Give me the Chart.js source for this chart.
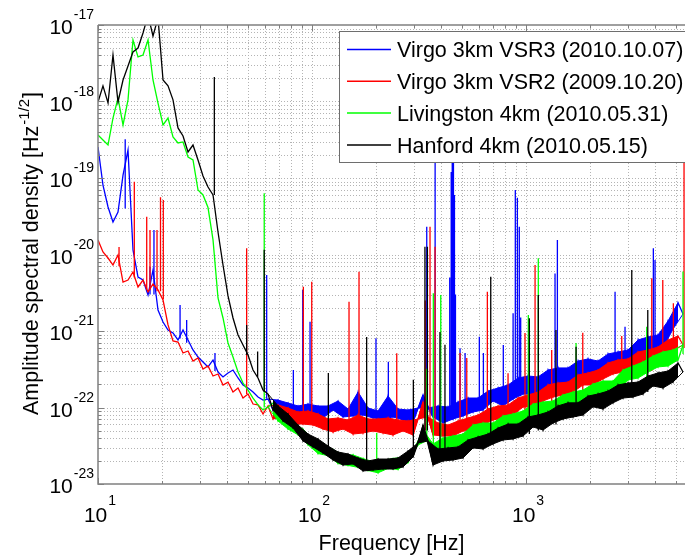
<!DOCTYPE html>
<html>
<head>
<meta charset="utf-8">
<script src="https://cdn.jsdelivr.net/npm/chart.js@4.4.1/dist/chart.umd.min.js"></script>
<style>
  html, body { margin: 0; padding: 0; background: #fff; }
  canvas { display: block; }
</style>
</head>
<body>
<canvas id="asd" width="685" height="557"></canvas>
<script>
// frequency grid (Hz) shared by the four spectra
const freqs = [10, 10.55, 11.14, 11.75, 12.4, 13.09, 13.81, 14.57, 15.38, 16.23,
  17.13, 18.07, 19.07, 20.13, 21.24, 22.41, 23.65, 24.96, 26.34, 27.79,
  29.33, 30.95, 32.66, 34.47, 36.37, 38.38, 40.5, 42.74, 45.11, 47.6,
  50.23, 53.01, 55.94, 59.03, 62.29, 65.73, 69.37, 73.2, 77.25, 81.52,
  86.02, 90.78, 95.8, 101.1, 106.7, 112.6, 118.8, 125.4, 132.3, 139.6,
  147.3, 155.5, 164.1, 173.1, 182.7, 192.8, 203.5, 214.7, 226.6, 239.1,
  252.3, 266.3, 281, 296.5, 312.9, 330.2, 348.5, 367.7, 388.1, 409.5,
  432.1, 456, 481.2, 507.8, 535.9, 565.5, 596.8, 629.8, 664.6, 701.3,
  740.1, 781, 824.2, 869.7, 917.8, 968.5, 1022, 1079, 1138, 1201,
  1267, 1337, 1411, 1489, 1571, 1658, 1750, 1846, 1948, 2056,
  2169, 2289, 2416, 2549, 2690, 2839, 2996, 3161, 3336, 3520,
  3715, 3920, 4137, 4366, 4607, 4862, 5130, 5414];

const virgoVSR3 = [2.54e-19, 8.09e-20, 4.18e-20, 2.66e-20, 3.59e-20, 1.09e-19, 2.32e-19, 1.15e-20, 5.08e-21, 4.64e-21,
  2.95e-21, 6.27e-21, 1.88e-21, 1.31e-21, 1.03e-21, 9.42e-22, 7.63e-22, 1.03e-21, 7.63e-22, 5.65e-22,
  4.57e-22, 3.93e-22, 3.39e-22, 4.18e-22, 2.91e-22, 2.51e-22, 2.83e-22, 3.09e-22, 2.43e-22, 1.97e-22,
  1.8e-22, 1.59e-22, 1.37e-22, 1.25e-22, 1.29e-22, 9.27e-23, 1.25e-22, 8.74e-23, 1.145e-22, 7.75e-23,
  1.046e-22, 7.52e-23, 1.11e-22, 8.48e-23, 1.046e-22, 7.29e-23, 1.046e-22, 9.27e-23, 1.215e-22, 7.52e-23,
  9.56e-23, 7.75e-23, 1.59e-22, 7.98e-23, 9.85e-23, 7.29e-23, 9.0e-23, 7.08e-23, 1.41e-22, 7.52e-23,
  9.56e-23, 6.87e-23, 9.27e-23, 6.46e-23, 9.85e-23, 1.46e-22, 9.85e-23, 7.52e-23, 1.046e-22, 6.27e-23,
  1.015e-22, 7.08e-23, 1.18e-22, 7.75e-23, 1.33e-22, 8.74e-23, 1.33e-22, 9.27e-23, 1.64e-22, 1.215e-22,
  1.8e-22, 1.046e-22, 1.97e-22, 1.29e-22, 2.43e-22, 1.5e-22, 2.58e-22, 1.5e-22, 2.51e-22, 1.59e-22,
  3.09e-22, 2.09e-22, 3.29e-22, 1.8e-22, 3.29e-22, 2.15e-22, 4.05e-22, 2.43e-22, 4.31e-22, 2.43e-22,
  4.05e-22, 2.58e-22, 5.01e-22, 3.39e-22, 5.32e-22, 3.0e-22, 5.65e-22, 3.82e-22, 7.63e-22, 4.71e-22,
  8.35e-22, 5.01e-22, 8.87e-22, 6.0e-22, 1.35e-21, 1.06e-21, 2.34e-21, 1.67e-21];

const virgoVSR2 = [1.55e-20, 1.08e-20, 9.0e-21, 7.29e-21, 9.85e-21, 4.37e-21, 4.64e-21, 5.9e-21, 3.76e-21, 4.64e-21,
  3.24e-21, 4.11e-21, 3.44e-21, 2.54e-21, 1.2e-21, 7.4e-22, 7.18e-22, 5.16e-22, 5.48e-22, 4.05e-22,
  4.44e-22, 3.19e-22, 3.49e-22, 2.58e-22, 2.74e-22, 1.97e-22, 2.15e-22, 1.59e-22, 1.8e-22, 1.33e-22,
  1.5e-22, 1.11e-22, 1.08e-22, 8.23e-23, 1.046e-22, 7.08e-23, 1.08e-22, 7.52e-23, 9.85e-23, 6.08e-23,
  8.74e-23, 6.08e-23, 9.0e-23, 5.9e-23, 8.23e-23, 5.23e-23, 7.08e-23, 4.78e-23, 7.29e-23, 5.23e-23,
  6.87e-23, 4.5e-23, 7.98e-23, 4.64e-23, 7.08e-23, 4.93e-23, 7.08e-23, 4.64e-23, 7.29e-23, 4.37e-23,
  6.87e-23, 4.93e-23, 6.66e-23, 4.37e-23, 7.08e-23, 1.18e-22, 7.52e-23, 4.37e-23, 6.27e-23, 4.24e-23,
  5.9e-23, 4.24e-23, 6.66e-23, 4.93e-23, 7.29e-23, 5.08e-23, 7.98e-23, 5.9e-23, 9.56e-23, 6.87e-23,
  1.046e-22, 7.29e-23, 1.08e-22, 7.98e-23, 1.33e-22, 1.015e-22, 1.46e-22, 1.015e-22, 1.59e-22, 1.215e-22,
  1.97e-22, 1.37e-22, 2.09e-22, 1.46e-22, 2.15e-22, 1.59e-22, 2.66e-22, 1.97e-22, 2.83e-22, 1.97e-22,
  3.09e-22, 2.36e-22, 3.82e-22, 2.74e-22, 4.18e-22, 2.91e-22, 4.31e-22, 3.19e-22, 5.32e-22, 3.93e-22,
  5.65e-22, 3.93e-22, 6.18e-22, 4.71e-22, 7.63e-22, 5.48e-22, 8.6e-22, 6.56e-22];

const livingston = [3.65e-19, 3.14e-19, 2.7e-19, 6.08e-19, 1.11e-18, 4.93e-19, 1.05e-18, 6.37e-18, 3.82e-18, 4.05e-18,
  6.37e-18, 1.91e-18, 9.55e-19, 4.93e-19, 6.08e-19, 3.44e-19, 2.87e-19, 2.96e-19, 1.88e-19, 1.72e-19,
  6.97e-20, 6.0e-20, 4.11e-20, 1.55e-20, 2.7e-21, 1.48e-21, 6.97e-22, 4.57e-22, 2.91e-22, 2.09e-22,
  1.69e-22, 1.33e-22, 1.08e-22, 9.27e-23, 1.015e-22, 1.145e-22, 6.66e-23, 8.23e-23, 5.23e-23, 6.46e-23,
  4.4e-23, 5.2e-23, 3.25e-23, 3.9e-23, 2.5e-23, 3.35e-23, 2.35e-23, 2.8e-23, 1.85e-23, 2.4e-23,
  1.75e-23, 2.4e-23, 1.65e-23, 2.15e-23, 1.5e-23, 1.95e-23, 1.4e-23, 2.05e-23, 1.6e-23, 2.15e-23,
  1.55e-23, 2.25e-23, 1.9e-23, 2.7e-23, 3.24e-23, 5.08e-23, 3.76e-23, 3.34e-23, 2.47e-23, 4.0e-23,
  2.96e-23, 4.24e-23, 2.96e-23, 4.5e-23, 3.54e-23, 5.9e-23, 4.12e-23, 6.27e-23, 4.37e-23, 6.27e-23,
  4.64e-23, 7.75e-23, 5.9e-23, 8.23e-23, 5.73e-23, 9.0e-23, 6.87e-23, 1.11e-22, 7.75e-23, 1.18e-22,
  8.23e-23, 1.215e-22, 8.74e-23, 1.46e-22, 1.11e-22, 1.59e-22, 1.08e-22, 1.69e-22, 1.29e-22, 2.03e-22,
  1.46e-22, 2.22e-22, 1.55e-22, 2.22e-22, 1.64e-22, 3.09e-22, 2.29e-22, 3.49e-22, 2.43e-22, 3.93e-22,
  2.91e-22, 4.71e-22, 3.39e-22, 5.32e-22, 3.49e-22, 5.65e-22, 4.18e-22, 6.56e-22];

const hanford = [9.85e-19, 1.6e-18, 9.55e-19, 4.05e-18, 9.85e-19, 1.91e-18, 2.91e-18, 4.44e-18, 5.0e-18, 7.85e-18,
  1.35e-17, 7.18e-18, 1.24e-17, 1.91e-18, 1.6e-18, 1.05e-18, 4.51e-19, 3.54e-19, 2.19e-19, 2.7e-19,
  1.72e-19, 1.06e-19, 7.62e-20, 6.0e-20, 1.97e-20, 7.29e-21, 2.87e-21, 1.48e-21, 8.87e-22, 6.56e-22,
  4.86e-22, 3.09e-22, 2.43e-22, 1.69e-22, 1.5e-22, 9.27e-23, 1.05e-22, 6.66e-23, 8.23e-23, 5.39e-23,
  5.9e-23, 3.65e-23, 4.5e-23, 3.05e-23, 3.88e-23, 2.54e-23, 3.14e-23, 2.06e-23, 2.62e-23, 1.77e-23,
  2.47e-23, 1.83e-23, 2.19e-23, 1.48e-23, 2.0e-23, 1.52e-23, 2.12e-23, 1.57e-23, 2.12e-23, 1.57e-23,
  2.19e-23, 1.67e-23, 2.7e-23, 2.26e-23, 3.44e-23, 5.9e-23, 3.65e-23, 1.77e-23, 2.87e-23, 2.0e-23,
  2.96e-23, 2.06e-23, 3.05e-23, 2.19e-23, 3.76e-23, 2.96e-23, 4.12e-23, 2.87e-23, 4.5e-23, 3.34e-23,
  5.39e-23, 3.76e-23, 6.08e-23, 3.88e-23, 6.08e-23, 4.24e-23, 7.52e-23, 5.56e-23, 7.98e-23, 5.08e-23,
  8.74e-23, 6.27e-23, 1.05e-22, 7.08e-23, 1.15e-22, 7.52e-23, 1.15e-22, 7.98e-23, 1.41e-22, 1.02e-22,
  1.5e-22, 9.56e-23, 1.64e-22, 1.15e-22, 1.97e-22, 1.33e-22, 2.09e-22, 1.37e-22, 2.15e-22, 1.5e-22,
  2.58e-22, 1.91e-22, 2.83e-22, 1.8e-22, 3.0e-22, 2.15e-22, 3.82e-22, 2.91e-22];

// narrow spectral lines: [frequency, floor, peak]
const virgoVSR3Lines = [[13.4, 4e-20, 3.2e-19], [17.5, 3e-21, 6.9e-21], [18.26, 3e-21, 2.09e-20],
  [24.18, 8e-22, 2.19e-21], [25.96, 7e-22, 1.39e-21], [35.2, 3e-22, 5.16e-22], [61.4, 1.3e-22, 5.4e-21],
  [81.8, 1e-22, 3.09e-22], [90.5, 1e-22, 3.44e-21], [97.9, 1e-22, 1.32e-21], [199, 8e-23, 8.03e-22],
  [227.3, 8e-23, 3.97e-22], [343.6, 1e-22, 2.31e-20], [376, 1e-22, 2.47e-19], [440, 1e-22, 5e-21],
  [447, 1e-22, 1.2e-19], [452, 1e-22, 3.1e-19], [458, 1e-22, 2.5e-19], [463, 1e-22, 6e-20],
  [468, 1e-22, 3e-21], [491.6, 1e-22, 5.94e-22], [519, 1e-22, 5.16e-22], [605, 1.2e-22, 8.42e-22],
  [632, 1.2e-22, 5.16e-22], [783, 1.3e-22, 6.56e-22], [870, 1.4e-22, 1.7e-21], [891, 1.4e-22, 6.97e-20],
  [911, 1.4e-22, 5.5e-20], [930, 1.4e-22, 2.3e-20], [944, 1.4e-22, 1.5e-21], [1366, 2.5e-22, 5.65e-21],
  [1401, 2.5e-22, 1.55e-20], [2606, 3.5e-22, 3.26e-21], [2901, 4e-22, 1.14e-21], [3934, 5e-22, 1.21e-20],
  [4006, 5e-22, 8.47e-21]];

const virgoVSR2Lines = [[12.54, 7e-21, 1.25e-20], [14.78, 5e-21, 8.95e-20], [16.89, 3.5e-21, 3.12e-20],
  [17.5, 3.4e-21, 2.09e-20], [18.87, 3.3e-21, 2.09e-20], [19.59, 3.3e-21, 5.6e-20], [20.19, 2.6e-21, 5.16e-20],
  [49.5, 1.5e-22, 1.21e-20], [91.1, 8e-23, 3.79e-21], [99.7, 7e-23, 4.41e-21], [148.9, 6e-23, 2.42e-21],
  [165.8, 8e-23, 5.96e-21], [248.8, 6e-23, 5.11e-22], [338, 5e-23, 2.5e-21], [355.9, 6e-23, 2.31e-20],
  [375.7, 5e-23, 1.26e-20], [491.6, 5e-23, 5.16e-22], [528.5, 5e-23, 4.44e-22], [659.5, 6e-23, 3.26e-21],
  [824, 8e-23, 2.8e-22], [989, 9e-23, 9.4e-22], [1102, 1e-22, 7.29e-21], [1318, 1.2e-22, 5.65e-22],
  [1841, 1.6e-22, 9.5e-22], [2800, 2.5e-22, 8.6e-22], [3868, 3e-22, 4.89e-21], [4354, 3.5e-22, 4.64e-21],
  [4879, 4e-22, 2.3e-21], [5473, 6e-22, 1.57e-19]];

const livingstonLines = [[59.8, 1.0e-22, 6.3e-20], [200.6, 1.5e-23, 4.64e-23], [343.6, 4e-23, 3.2e-22],
  [368.8, 3e-23, 3.11e-21], [399.5, 3e-23, 2.96e-21], [1025, 5e-23, 1.62e-21], [1141, 6e-23, 8.91e-21],
  [1713, 1e-22, 6.97e-22], [3664, 2e-22, 1.14e-21], [5414, 5e-22, 6.0e-21]];

const hanfordLines = [[34.96, 6.0e-20, 2.09e-18], [49.5, 4.9e-22, 1.2e-21], [55.7, 2.5e-22, 5.4e-22],
  [59.8, 1.6e-22, 1.15e-20], [119.2, 2.6e-23, 2.83e-22], [180, 1.8e-23, 8.35e-22], [297.5, 2.3e-23, 2.3e-22],
  [337, 5e-23, 1.26e-20], [346, 5e-23, 1.26e-20], [396, 2.5e-23, 9.7e-22], [418, 2.5e-23, 6.6e-22],
  [684, 3.3e-23, 5.13e-21], [1036, 4.5e-23, 1.47e-21], [1141, 5e-23, 2.96e-21], [1380, 6e-23, 1.03e-21],
  [1713, 7.5e-23, 6.23e-22], [3119, 1.35e-22, 6.27e-21], [3705, 1.6e-22, 1.88e-21]];

const seriesNames = ['Virgo 3km VSR3 (2010.10.07)', 'Virgo 3km VSR2 (2009.10.20)',
  'Livingston 4km (2010.05.31)', 'Hanford 4km (2010.05.15)'];
const xTickPowers = [1, 2, 3];
const yTickPowers = [-23, -22, -21, -20, -19, -18, -17];
const xTitle = 'Frequency [Hz]';
const yTitle = ['Amplitude spectral density [Hz', '-1/2', ']'];

const colors = ['#0000ff', '#ff0000', '#00ff00', '#000000'];
const FONT = '"Liberation Sans", Arial, Helvetica, sans-serif';
const bandStart = 34; // from ~60 Hz the spectra are dense noise bands

const series = [
  { vals: virgoVSR3, lines: virgoVSR3Lines, order: 4 },
  { vals: virgoVSR2, lines: virgoVSR2Lines, order: 3 },
  { vals: livingston, lines: livingstonLines, order: 2 },
  { vals: hanford, lines: hanfordLines, order: 1 },
];

const datasets = [];
series.forEach((s, k) => {
  const c = colors[k];
  datasets.push({
    label: seriesNames[k],
    data: freqs.map((f, i) => ({ x: f, y: s.vals[i] })),
    borderColor: c, borderWidth: 1.3, pointRadius: 0, order: s.order,
  });
  // noise band: fill between the peaks and troughs of the same trace
  const peaks = [], troughs = [];
  for (let i = bandStart; i < freqs.length; i++) {
    (i % 2 ? troughs : peaks).push({ x: freqs[i], y: s.vals[i] });
  }
  datasets.push({ label: seriesNames[k] + ' a', data: peaks, borderColor: c, borderWidth: 1,
    pointRadius: 0, fill: false, order: s.order });
  datasets.push({ label: seriesNames[k] + ' b', data: troughs, borderColor: c, borderWidth: 1,
    pointRadius: 0, fill: '-1', backgroundColor: c, order: s.order });
  datasets.push({
    label: seriesNames[k] + ' lines',
    data: s.lines.flatMap(([f, lo, hi]) => [{ x: f, y: lo }, { x: f, y: hi }, { x: f, y: null }]),
    borderColor: c, borderWidth: 1.3, pointRadius: 0, spanGaps: false, order: s.order,
  });
});

function gridValues(minExp, maxExp, maxVal) {
  const out = [];
  for (let e = minExp; e <= maxExp; e++) {
    for (let m = 1; m <= 9; m++) {
      const v = m * Math.pow(10, e);
      if (v <= maxVal * 1.0001) out.push({ v, major: m === 1 });
    }
  }
  return out;
}

const matlabAxes = {
  id: 'matlabAxes',
  beforeDatasetsDraw(chart) {
    const { ctx, chartArea: a, scales: { x, y } } = chart;
    ctx.save();
    ctx.strokeStyle = '#b4b4b4';
    ctx.lineWidth = 1;
    ctx.setLineDash([1, 2]);
    gridValues(1, 3, x.max).forEach(({ v }) => {
      const px = Math.round(x.getPixelForValue(v)) + 0.5;
      if (px <= a.left + 1) return;
      ctx.beginPath(); ctx.moveTo(px, a.top); ctx.lineTo(px, a.bottom); ctx.stroke();
    });
    gridValues(-23, -18, y.max).forEach(({ v }) => {
      const py = Math.round(y.getPixelForValue(v)) + 0.5;
      if (py >= a.bottom - 1) return;
      ctx.beginPath(); ctx.moveTo(a.left, py); ctx.lineTo(a.right, py); ctx.stroke();
    });
    ctx.restore();
  },
  afterDatasetsDraw(chart) {
    const { ctx, chartArea: a, scales: { x, y } } = chart;
    ctx.save();
    // axes box and inward ticks
    ctx.strokeStyle = '#808080';
    ctx.lineWidth = 1.5;
    ctx.beginPath();
    ctx.moveTo(a.left, a.top); ctx.lineTo(a.left, a.bottom); ctx.lineTo(a.right, a.bottom);
    ctx.moveTo(a.left, a.top); ctx.lineTo(a.right, a.top);
    ctx.stroke();
    ctx.lineWidth = 1;
    gridValues(1, 3, x.max).forEach(({ v, major }) => {
      const px = Math.round(x.getPixelForValue(v)) + 0.5;
      const len = major ? 6 : 3;
      ctx.beginPath();
      ctx.moveTo(px, a.bottom); ctx.lineTo(px, a.bottom - len);
      ctx.moveTo(px, a.top); ctx.lineTo(px, a.top + len);
      ctx.stroke();
    });
    gridValues(-23, -17, y.max).forEach(({ v, major }) => {
      const py = Math.round(y.getPixelForValue(v)) + 0.5;
      const len = major ? 6 : 3;
      ctx.beginPath(); ctx.moveTo(a.left, py); ctx.lineTo(a.left + len, py); ctx.stroke();
    });

    // tick labels 10^n
    ctx.fillStyle = '#000';
    ctx.textBaseline = 'alphabetic';
    const big = '21px ' + FONT, small = '14px ' + FONT;
    yTickPowers.forEach((e) => {
      const py = y.getPixelForValue(Math.pow(10, e));
      ctx.font = small;
      const we = ctx.measureText(String(e)).width;
      const xr = a.left - 5 - we;
      ctx.textAlign = 'left';
      ctx.fillText(String(e), xr + 1, py - 6);
      ctx.font = big;
      ctx.textAlign = 'right';
      ctx.fillText('10', xr, py + 9);
    });
    xTickPowers.forEach((e) => {
      const px = x.getPixelForValue(Math.pow(10, e));
      ctx.font = big;
      const w10 = ctx.measureText('10').width;
      ctx.font = small;
      const we = ctx.measureText(String(e)).width;
      const x0 = px - (w10 + we + 1) / 2 + 2;
      ctx.textAlign = 'left';
      ctx.fillText(String(e), x0 + w10 + 1, 505);
      ctx.font = big;
      ctx.fillText('10', x0, 522);
    });

    // axis titles
    const title = '21.5px ' + FONT, titleSup = '15px ' + FONT;
    ctx.font = title;
    ctx.textAlign = 'center';
    ctx.fillText(xTitle, (a.left + a.right) / 2, 550);

    ctx.save();
    ctx.translate(38, (a.top + a.bottom) / 2);
    ctx.rotate(-Math.PI / 2);
    ctx.textAlign = 'left';
    ctx.font = title;
    const w0 = ctx.measureText(yTitle[0]).width;
    const w2 = ctx.measureText(yTitle[2]).width;
    ctx.font = titleSup;
    const w1 = ctx.measureText(yTitle[1]).width;
    const cx = -(w0 + w1 + w2) / 2;
    ctx.font = title;
    ctx.fillText(yTitle[0], cx, 0);
    ctx.font = titleSup;
    ctx.fillText(yTitle[1], cx + w0 + 1, -9);
    ctx.font = title;
    ctx.fillText(yTitle[2], cx + w0 + w1 + 2, 0);
    ctx.restore();

    // legend box inside the axes
    const lx = 339.5, ly = 31.5, lh = 131;
    ctx.fillStyle = '#fff';
    ctx.fillRect(lx, ly, 400, lh);
    ctx.strokeStyle = '#6e6e6e';
    ctx.lineWidth = 1;
    ctx.strokeRect(lx, ly, 400, lh);
    ctx.font = '21.5px ' + FONT;
    ctx.textAlign = 'left';
    ctx.textBaseline = 'middle';
    seriesNames.forEach((name, k) => {
      const ry = 49.5 + k * 31.8;
      ctx.strokeStyle = colors[k];
      ctx.lineWidth = 1.5;
      ctx.beginPath(); ctx.moveTo(347, ry); ctx.lineTo(391, ry); ctx.stroke();
      ctx.fillStyle = '#000';
      ctx.fillText(name, 397, ry + 2);
    });
    ctx.restore();
  },
};

new Chart(document.getElementById('asd'), {
  type: 'line',
  data: { datasets },
  options: {
    responsive: false,
    devicePixelRatio: 1,
    animation: false,
    layout: { padding: { left: 98, right: 0, top: 25, bottom: 73 } },
    plugins: { legend: { display: false }, tooltip: { enabled: false } },
    elements: { line: { tension: 0 } },
    scales: {
      x: { type: 'logarithmic', min: 10, max: 5530, display: false },
      y: { type: 'logarithmic', min: 1e-23, max: 1e-17, display: false },
    },
  },
  plugins: [matlabAxes],
});
</script>
</body>
</html>
